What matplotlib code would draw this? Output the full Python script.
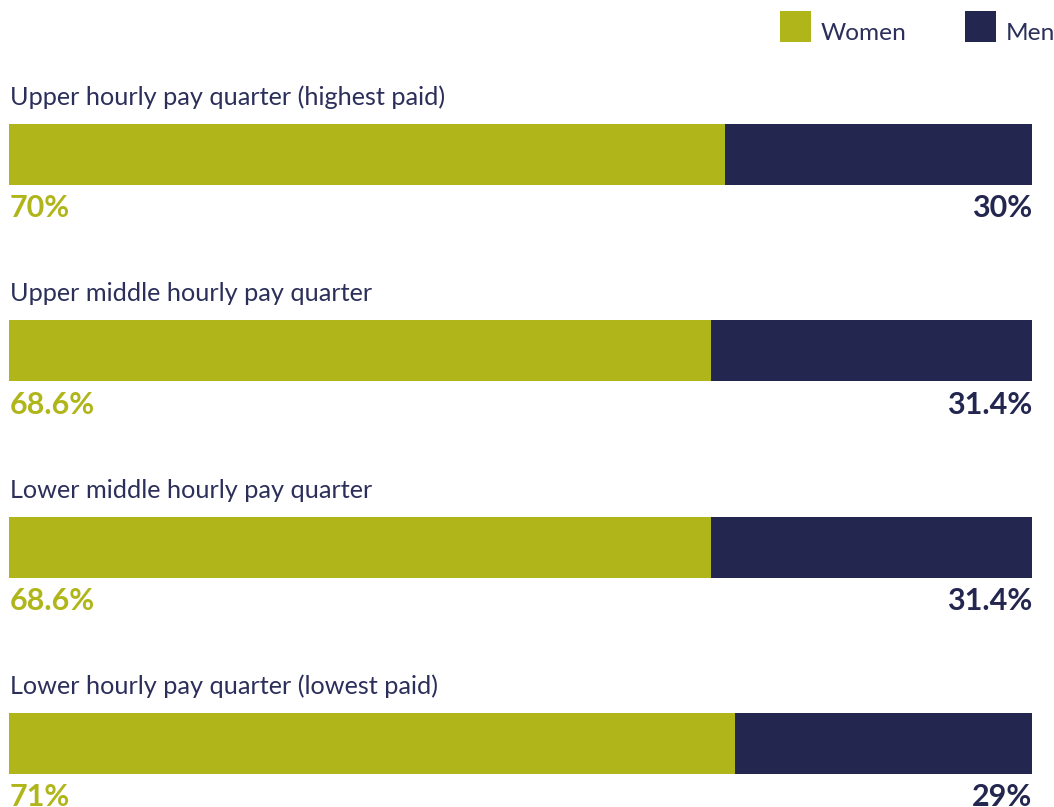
import matplotlib.pyplot as plt
from matplotlib.patches import Rectangle

# pay quarter data (percent of women / men in each quarter)
quarters = ['Upper hourly pay quarter (highest paid)',
            'Upper middle hourly pay quarter',
            'Lower middle hourly pay quarter',
            'Lower hourly pay quarter (lowest paid)']
women = [70, 68.6, 68.6, 71]
men = [30, 31.4, 31.4, 29]
women_labels = ['70%', '68.6%', '68.6%', '71%']
men_labels = ['30%', '31.4%', '31.4%', '29%']

OLIVE = '#b0b61a'
NAVY = '#23264f'
TEXT = '#2b2f5a'
FONT = ['Lato', 'DejaVu Sans']

plt.rcParams['font.family'] = FONT

W, H = 1054, 807
fig = plt.figure(figsize=(W / 100, H / 100), dpi=100)
# axes spans the bar width in x; full figure height in y
ax = fig.add_axes([9 / W, 0, 1023 / W, 1])

rows = list(range(len(quarters)))
step = 196.3
ax.set_xlim(0, 100)
ax.set_ylim((H - 154.5) / step, -154.5 / step)
bar_h = 61 / step

ax.barh(rows, women, height=bar_h, color=OLIVE, linewidth=0)
ax.barh(rows, men, left=women, height=bar_h, color=NAVY, linewidth=0)

for i in rows:
    ax.text(0.1, i - 0.29, quarters[i], fontsize=18.2, color=TEXT,
            ha='left', va='center')
    ax.text(0.1, i + 0.275, women_labels[i], fontsize=22, color=OLIVE,
            fontweight='bold', ha='left', va='center')
    ax.text(100, i + 0.275, men_labels[i], fontsize=22, color=NAVY,
            fontweight='bold', ha='right', va='center')

ax.axis('off')

# legend drawn by hand, top right
for x0, col, lab in [(780, OLIVE, 'Women'), (965, NAVY, 'Men')]:
    fig.add_artist(Rectangle((x0 / W, 1 - 42 / H), 31 / W, 31 / H,
                             transform=fig.transFigure, color=col, lw=0))
    fig.text((x0 + 41) / W, 1 - 33 / H, lab, fontsize=17.6, color=TEXT,
             ha='left', va='center')

fig.savefig('out.png', dpi=100)
